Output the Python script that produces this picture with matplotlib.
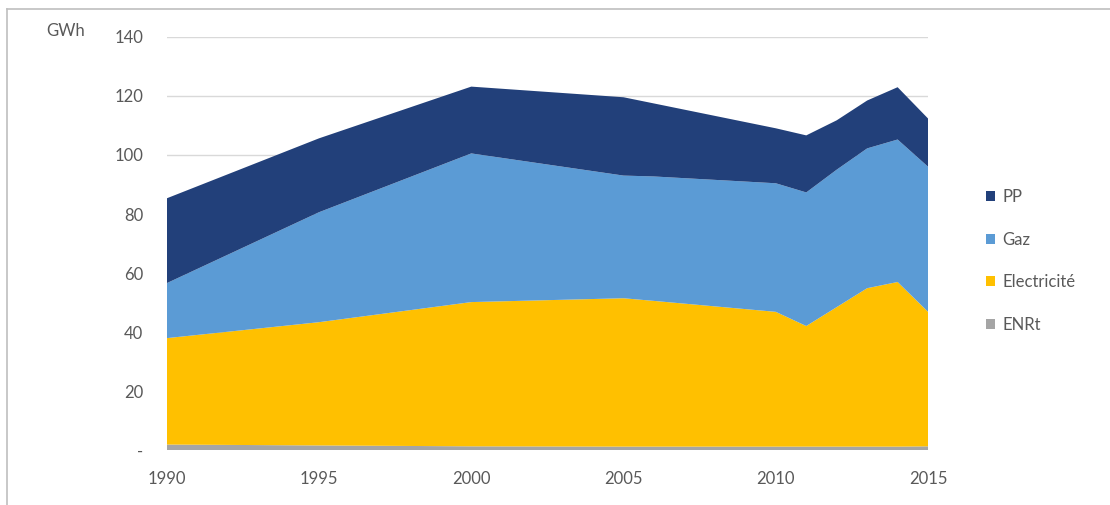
import matplotlib
matplotlib.use("Agg")
import matplotlib.pyplot as plt
from matplotlib.patches import Patch
from matplotlib.lines import Line2D

# Final energy consumption by carrier (GWh)
years = [1990, 1995, 2000, 2005, 2006, 2010, 2011, 2012, 2013, 2014, 2015]
enrt = [2.0, 1.7, 1.4, 1.3, 1.3, 1.3, 1.3, 1.3, 1.3, 1.3, 1.4]
electricite = [36.0, 41.7, 48.8, 50.2, 49.3, 45.6, 40.8, 47.2, 53.6, 55.7, 45.5]
gaz = [18.6, 37.2, 50.3, 41.5, 42.1, 43.5, 45.2, 46.5, 47.3, 48.2, 49.1]
pp = [28.7, 25.0, 22.6, 26.5, 24.7, 18.6, 19.3, 16.7, 16.2, 17.7, 16.3]

series_labels = ["ENRt", "Electricité", "Gaz", "PP"]
series_colors = ["#a5a5a5", "#ffc000", "#5b9bd5", "#22407a"]

x_ticks = [1990, 1995, 2000, 2005, 2010, 2015]
y_ticks = [0, 20, 40, 60, 80, 100, 120, 140]
y_tick_labels = ["-", "20", "40", "60", "80", "100", "120", "140"]

plt.rcParams["font.family"] = ["Lato", "DejaVu Sans"]
text_color = "#595959"
fs = 12

fig = plt.figure(figsize=(11.1, 5.05), dpi=100)
ax = fig.add_axes([0.1502, 0.108, 0.6859, 0.8194])

ax.stackplot(years, enrt, electricite, gaz, pp,
             colors=series_colors, labels=series_labels, linewidth=0)

ax.set_xlim(1990, 2015)
ax.set_ylim(0, 140)
ax.set_xticks(x_ticks)
ax.set_yticks(y_ticks)
ax.set_yticklabels(y_tick_labels)
ax.tick_params(axis="both", length=0, labelsize=fs, colors=text_color)
ax.tick_params(axis="y", pad=17)
ax.tick_params(axis="x", pad=15)
ax.grid(axis="y", color="#d9d9d9", linewidth=1)
ax.set_axisbelow(True)
for s in ax.spines.values():
    s.set_visible(False)

fig.text(66 / 1110, 1 - 31 / 505, "GWh", ha="center", va="center",
         fontsize=fs, color=text_color)

# Legend, top-to-bottom: PP, Gaz, Electricité, ENRt
handles = [Patch(facecolor=c, edgecolor="none") for c in series_colors][::-1]
leg = fig.legend(handles, series_labels[::-1],
                 loc="upper left", bbox_to_anchor=(986 / 1110, 1 - 189 / 505),
                 frameon=False, fontsize=fs, labelcolor=text_color,
                 handlelength=0.55, handleheight=0.55, handletextpad=0.45,
                 labelspacing=1.6, borderaxespad=0, borderpad=0)

# Outer frame (left and top edges)
fig.add_artist(Line2D([7 / 1110, 7 / 1110], [0, 1 - 9 / 505],
                      transform=fig.transFigure, color="#bfbfbf", linewidth=1.2))
fig.add_artist(Line2D([7 / 1110, 1], [1 - 9 / 505, 1 - 9 / 505],
                      transform=fig.transFigure, color="#bfbfbf", linewidth=1.2))

fig.savefig("out.png", dpi=100, facecolor="white")
